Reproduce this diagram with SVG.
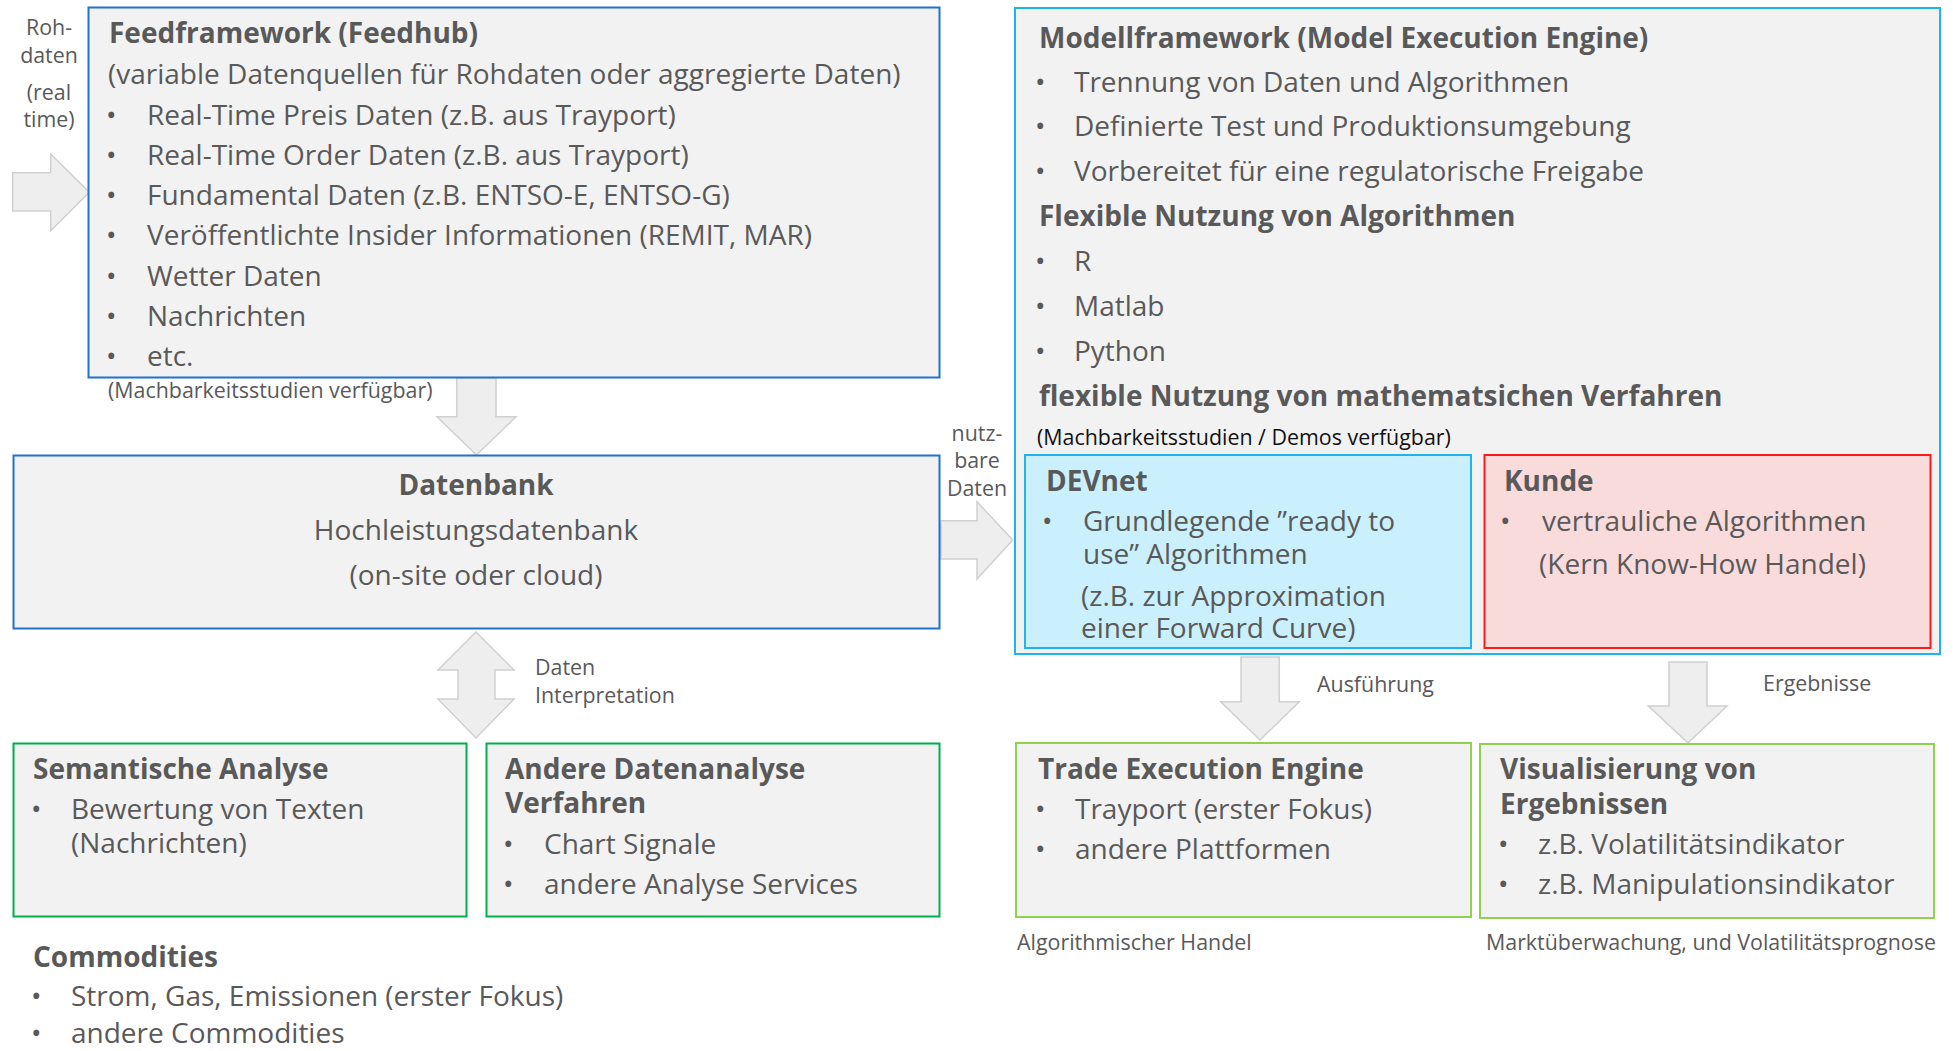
<svg xmlns="http://www.w3.org/2000/svg" width="1953" height="1051" viewBox="0 0 1953 1051">
<style>
text{font-family:"Open Sans","Noto Sans","Liberation Sans",sans-serif;fill:#595959}
.t{font-size:28px;font-weight:bold}
.b{font-size:28px}
.s{font-size:21.4px}
.k{fill:#111}
.box{fill:#f2f2f2}
.arr{fill:#eeeeee;stroke:#d0d0d0;stroke-width:1.5}
.mid{text-anchor:middle}
</style>
<rect width="1953" height="1051" fill="#ffffff"/>

<g id="connectors">
<polygon class="arr" points="12.7,172.7 50.7,172.7 50.7,154 89.3,192.3 50.7,230.7 50.7,211 12.7,211"/>
<polygon class="arr" points="456.7,378 496,378 496,416.7 516,416.7 476.5,455 437,416.7 456.7,416.7"/>
<polygon class="arr" points="476,632 514,670 495,670 495,699 514,699 476,738 438,699 458,699 458,670 438,670"/>
<polygon class="arr" points="941,520.7 977,520.7 977,501.7 1012.7,540 977,579 977,559 941,559"/>
<polygon class="arr" points="1241,657 1279.3,657 1279.3,701.7 1299.3,701.7 1260,740 1220.7,701.7 1241,701.7"/>
<polygon class="arr" points="1669,662 1707,662 1707,706 1727,706 1688,743 1648.5,706 1669,706"/>
</g>

<g id="rohdaten-label">
<text class="s mid" x="49" y="35">Roh-</text>
<text class="s mid" x="49" y="63">daten</text>
<text class="s mid" x="49" y="100">(real</text>
<text class="s mid" x="49" y="127">time)</text>
</g>

<g id="feedframework">
<rect class="box" x="88.5" y="7.5" width="851" height="370" stroke="#1f72cf" stroke-width="2"/>
<text class="t" x="109" y="43">Feedframework (Feedhub)</text>
<text class="b" x="108" y="84">(variable Datenquellen für Rohdaten oder aggregierte Daten)</text>
<text class="b" x="106" y="125">•</text><text class="b" x="147" y="125">Real-Time Preis Daten (z.B. aus Trayport)</text>
<text class="b" x="106" y="165">•</text><text class="b" x="147" y="165">Real-Time Order Daten (z.B. aus Trayport)</text>
<text class="b" x="106" y="205">•</text><text class="b" x="147" y="205">Fundamental Daten (z.B. ENTSO-E, ENTSO-G)</text>
<text class="b" x="106" y="245">•</text><text class="b" x="147" y="245">Veröffentlichte Insider Informationen (REMIT, MAR)</text>
<text class="b" x="106" y="286">•</text><text class="b" x="147" y="286">Wetter Daten</text>
<text class="b" x="106" y="326">•</text><text class="b" x="147" y="326">Nachrichten</text>
<text class="b" x="106" y="366">•</text><text class="b" x="147" y="366">etc.</text>
</g>
<g id="feed-note">
<text class="s" x="108" y="398">(Machbarkeitsstudien verfügbar)</text>
</g>

<g id="datenbank">
<rect class="box" x="13.5" y="455.5" width="926" height="173" stroke="#1f72cf" stroke-width="2"/>
<text class="t mid" x="476" y="495">Datenbank</text>
<text class="b mid" x="476" y="540">Hochleistungsdatenbank</text>
<text class="b mid" x="476" y="585">(on-site oder cloud)</text>
</g>

<g id="daten-interpretation-label">
<text class="s" x="535" y="675">Daten</text>
<text class="s" x="535" y="703">Interpretation</text>
</g>

<g id="semantische-analyse">
<rect class="box" x="13.5" y="743.5" width="453" height="173" stroke="#00b050" stroke-width="2"/>
<text class="t" x="33" y="779">Semantische Analyse</text>
<text class="b" x="31" y="819">•</text><text class="b" x="71" y="819">Bewertung von Texten</text>
<text class="b" x="71" y="853">(Nachrichten)</text>
</g>

<g id="andere-datenanalyse">
<rect class="box" x="486.5" y="743.5" width="453" height="173" stroke="#00b050" stroke-width="2"/>
<text class="t" x="505" y="779">Andere Datenanalyse</text>
<text class="t" x="505" y="813">Verfahren</text>
<text class="b" x="503" y="854">•</text><text class="b" x="544" y="854">Chart Signale</text>
<text class="b" x="503" y="894">•</text><text class="b" x="544" y="894">andere Analyse Services</text>
</g>

<g id="commodities">
<text class="t" x="33" y="967">Commodities</text>
<text class="b" x="31" y="1006">•</text><text class="b" x="71" y="1006">Strom, Gas, Emissionen (erster Fokus)</text>
<text class="b" x="31" y="1043">•</text><text class="b" x="71" y="1043">andere Commodities</text>
</g>

<g id="nutzbare-daten-label">
<text class="s mid" x="977" y="441">nutz-</text>
<text class="s mid" x="977" y="468">bare</text>
<text class="s mid" x="977" y="496">Daten</text>
</g>

<g id="modellframework">
<rect class="box" x="1015" y="8" width="925" height="646" stroke="#1fb5ea" stroke-width="2"/>
<text class="t" x="1039" y="48">Modellframework (Model Execution Engine)</text>
<text class="b" x="1035" y="92">•</text><text class="b" x="1074" y="92">Trennung von Daten und Algorithmen</text>
<text class="b" x="1035" y="136">•</text><text class="b" x="1074" y="136">Definierte Test und Produktionsumgebung</text>
<text class="b" x="1035" y="181">•</text><text class="b" x="1074" y="181">Vorbereitet für eine regulatorische Freigabe</text>
<text class="t" x="1039" y="226">Flexible Nutzung von Algorithmen</text>
<text class="b" x="1035" y="271">•</text><text class="b" x="1074" y="271">R</text>
<text class="b" x="1035" y="316">•</text><text class="b" x="1074" y="316">Matlab</text>
<text class="b" x="1035" y="361">•</text><text class="b" x="1074" y="361">Python</text>
<text class="t" x="1039" y="406">flexible Nutzung von mathematsichen Verfahren</text>
<text class="s k" x="1037" y="445">(Machbarkeitsstudien / Demos verfügbar)</text>
</g>

<g id="devnet">
<rect x="1025" y="455" width="446" height="193" fill="#c9f0fc" stroke="#1fb5ea" stroke-width="2"/>
<text class="t" x="1046" y="491">DEVnet</text>
<text class="b" x="1042" y="531">•</text><text class="b" x="1083" y="531">Grundlegende ”ready to</text>
<text class="b" x="1083" y="564">use” Algorithmen</text>
<text class="b" x="1081" y="606">(z.B. zur Approximation</text>
<text class="b" x="1081" y="638">einer Forward Curve)</text>
</g>

<g id="kunde">
<rect x="1484.5" y="455" width="446" height="193" fill="#fadbdc" stroke="#ff1a1a" stroke-width="2"/>
<text class="t" x="1504" y="491">Kunde</text>
<text class="b" x="1500" y="531">•</text><text class="b" x="1542" y="531">vertrauliche Algorithmen</text>
<text class="b" x="1539" y="574">(Kern Know-How Handel)</text>
</g>

<g id="ausfuehrung-label">
<text class="s" x="1317" y="692">Ausführung</text>
</g>
<g id="ergebnisse-label">
<text class="s" x="1763" y="691">Ergebnisse</text>
</g>

<g id="trade-execution-engine">
<rect class="box" x="1016" y="743" width="455" height="174" stroke="#92d050" stroke-width="2"/>
<text class="t" x="1038" y="779">Trade Execution Engine</text>
<text class="b" x="1035" y="819">•</text><text class="b" x="1075" y="819">Trayport (erster Fokus)</text>
<text class="b" x="1035" y="859">•</text><text class="b" x="1075" y="859">andere Plattformen</text>
</g>
<g id="trade-note">
<text class="s" x="1017" y="950">Algorithmischer Handel</text>
</g>

<g id="visualisierung">
<rect class="box" x="1480" y="744" width="454" height="174" stroke="#92d050" stroke-width="2"/>
<text class="t" x="1500" y="779">Visualisierung von</text>
<text class="t" x="1500" y="814">Ergebnissen</text>
<text class="b" x="1498" y="854">•</text><text class="b" x="1538" y="854">z.B. Volatilitätsindikator</text>
<text class="b" x="1498" y="894">•</text><text class="b" x="1538" y="894">z.B. Manipulationsindikator</text>
</g>
<g id="visual-note">
<text class="s" x="1486" y="950">Marktüberwachung, und Volatilitätsprognose</text>
</g>
</svg>
